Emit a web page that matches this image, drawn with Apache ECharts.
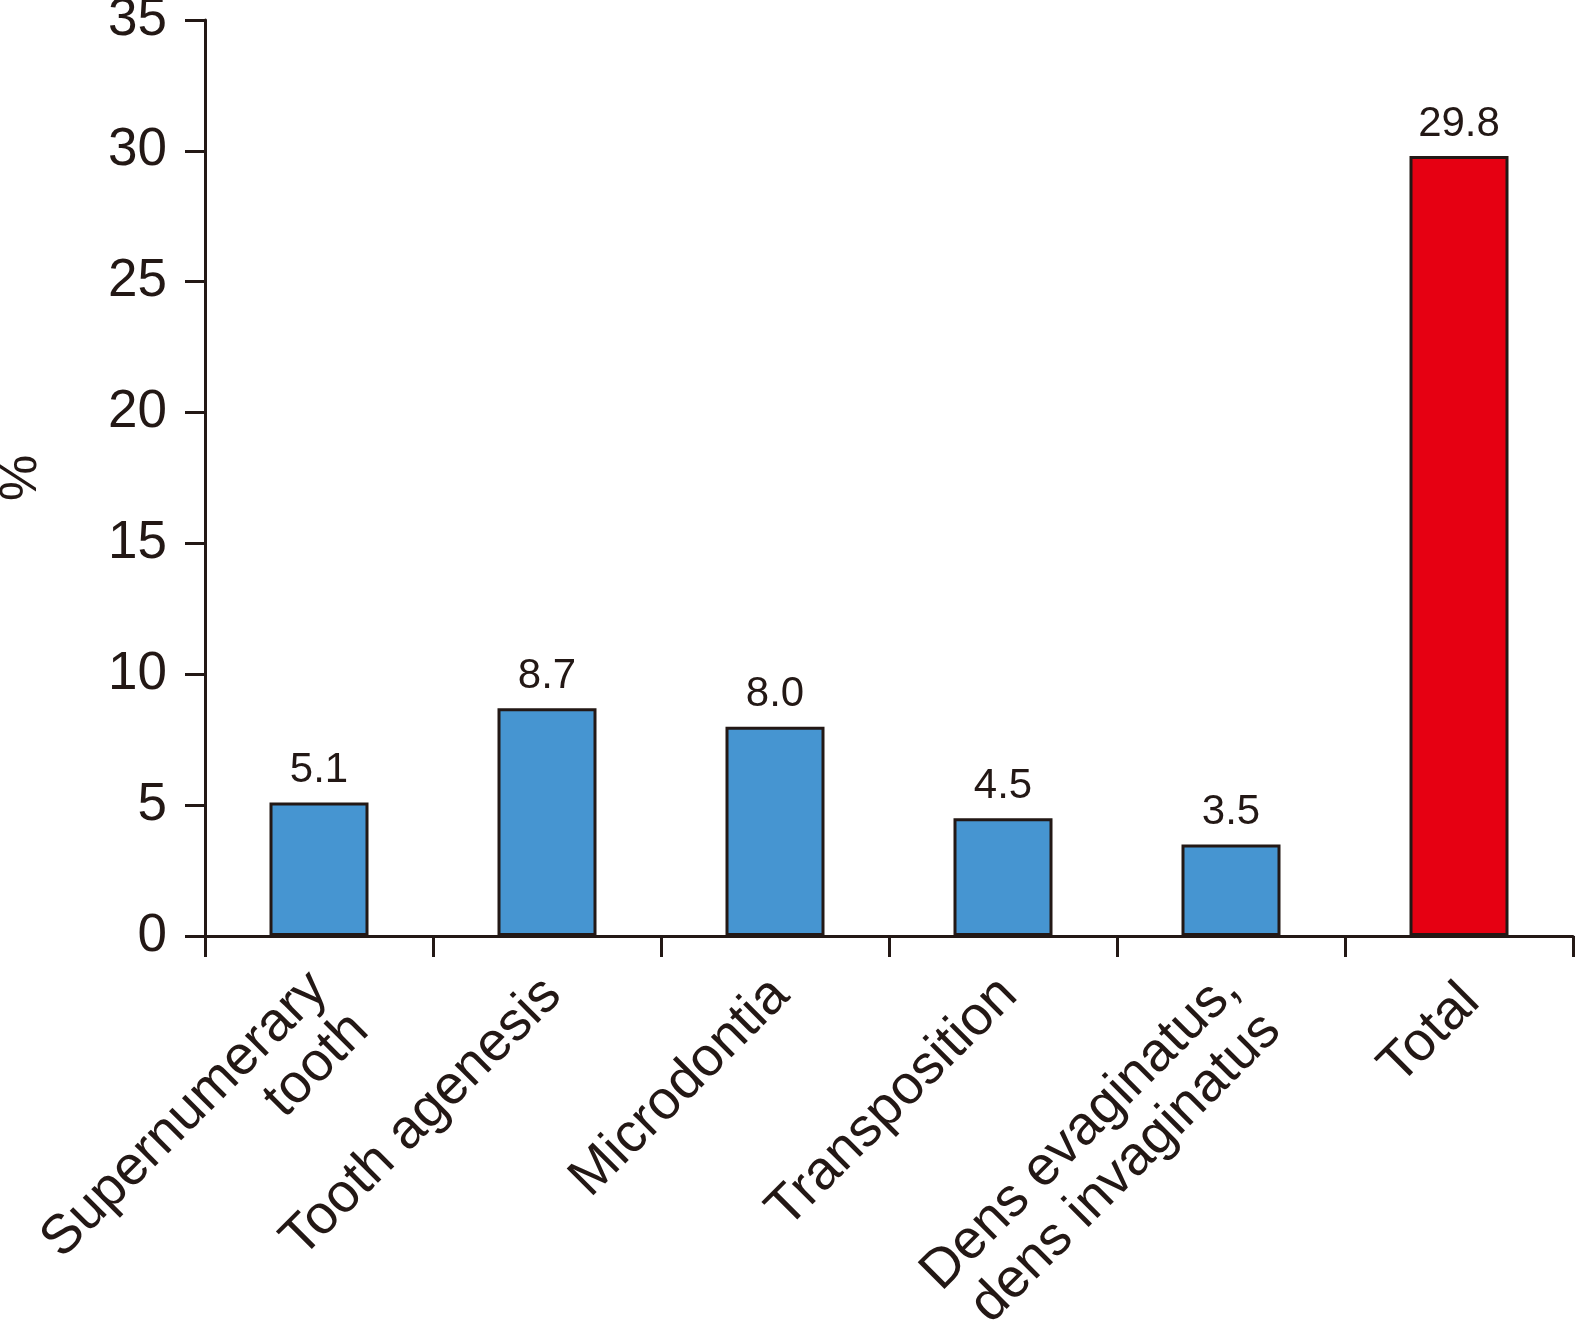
<!DOCTYPE html>
<html>
<head>
<meta charset="utf-8">
<script src="https://cdn.jsdelivr.net/npm/echarts@6/dist/echarts.min.js"></script>
<style>
html,body{margin:0;padding:0;background:#fff;}
#chart{width:1576px;height:1328px;}
</style>
</head>
<body>
<div id="chart"></div>
<script>
// Data
var categories = [
  'Supernumerary\ntooth',
  'Tooth agenesis',
  'Microdontia',
  'Transposition',
  'Dens evaginatus,\ndens invaginatus',
  'Total'
];
var values = [5.1, 8.7, 8.0, 4.5, 3.5, 29.8];
var barColors = ['#4695d1', '#4695d1', '#4695d1', '#4695d1', '#4695d1', '#e60012'];
var yTicks = [0, 5, 10, 15, 20, 25, 30, 35];

var ink = '#231815';
var font = '"Liberation Sans", Arial, Helvetica, sans-serif';

var chart = echarts.init(document.getElementById('chart'));
chart.setOption({
  animation: false,
  backgroundColor: '#ffffff',
  grid: { left: 205, right: 3, top: 20, bottom: 392, containLabel: false, outerBoundsMode: 'none' },
  xAxis: {
    type: 'category',
    data: categories,
    boundaryGap: true,
    axisLine: { show: true, lineStyle: { color: ink, width: 3 } },
    axisTick: { show: true, length: 21, alignWithLabel: false, lineStyle: { color: ink, width: 3 } },
    axisLabel: {
      rotate: 45,
      interval: 0,
      margin: 45,
      color: ink,
      fontSize: 55,
      fontFamily: font,
      lineHeight: 58,
      formatter: function (v, i) {
        if (v.indexOf('\n') >= 0) return '\n' + v;
        var sp = (i === categories.length - 1) ? 's2' : 's1';
        return '{' + sp + '| }\n{a|' + v + '}';
      },
      rich: {
        s1: { fontSize: 10, lineHeight: 16 },
        s2: { fontSize: 10, lineHeight: 34 },
        a: { fontSize: 55, lineHeight: 58, fontFamily: font, color: ink }
      }
    },
    splitLine: { show: false }
  },
  yAxis: {
    type: 'value',
    min: yTicks[0],
    max: yTicks[yTicks.length - 1],
    interval: 5,
    name: '%',
    nameLocation: 'middle',
    nameRotate: 90,
    nameGap: 157,
    nameTextStyle: { color: ink, fontSize: 52, fontFamily: font },
    axisLine: { show: true, lineStyle: { color: ink, width: 3 } },
    axisTick: { show: true, inside: false, length: 20, lineStyle: { color: ink, width: 3 } },
    axisLabel: { margin: 38, color: ink, fontSize: 53, fontFamily: font },
    splitLine: { show: false }
  },
  series: [{
    type: 'bar',
    barWidth: 99,
    data: values.map(function (v, i) {
      return { value: v, itemStyle: { color: barColors[i] } };
    }),
    itemStyle: { borderColor: ink, borderWidth: 3 },
    label: {
      show: true,
      position: 'top',
      distance: 11,
      color: ink,
      fontSize: 42,
      fontFamily: font,
      formatter: function (p) { return p.value.toFixed(1); }
    }
  }]
});
</script>
</body>
</html>
